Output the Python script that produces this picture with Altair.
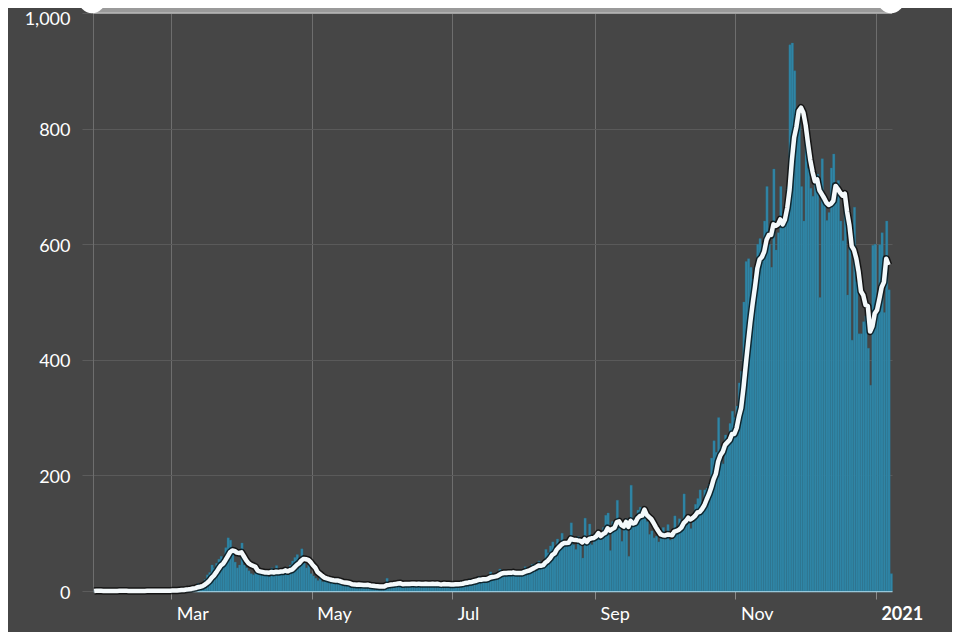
import altair as alt
import pandas as pd

# Daily new cases (Jan 27 2020 - Jan 7 2021)
jan20 = [0, 1, 0, 0, 0]
feb20 = [0, 0, 0, 1, 0, 0, 1, 0, 0, 0, 0, 0, 0, 0, 1, 0, 0, 0, 1, 0, 1, 0, 0, 1, 0, 1, 0, 1, 1]
mar20 = [1, 2, 1, 3, 2, 3, 5, 4, 6, 8, 7, 13, 9, 12, 20, 28, 32, 45, 40, 48, 55, 60, 50, 75, 92,
         88, 70, 50, 40, 45, 83]
apr20 = [45, 40, 35, 30, 28, 32, 38, 35, 34, 28, 30, 25, 40, 32, 44, 30, 35, 29, 40, 28, 45, 52,
         58, 63, 50, 73, 48, 40, 45, 30]
may20 = [26, 22, 18, 26, 16, 24, 20, 17, 15, 13, 22, 15, 16, 10, 11, 12, 9, 8, 14, 11, 13, 10, 9,
         8, 10, 6, 8, 9, 7, 6, 8]
jun20 = [10, 22, 12, 14, 9, 11, 12, 13, 11, 14, 15, 10, 12, 13, 9, 16, 11, 14, 12, 10, 13, 11, 15,
         12, 10, 9, 14, 11, 10, 12]
jul20 = [12, 14, 10, 16, 14, 18, 15, 20, 17, 18, 22, 25, 20, 21, 18, 24, 33, 28, 30, 26, 38, 34,
         28, 35, 30, 29, 32, 30, 34, 28, 36]
aug20 = [42, 38, 40, 46, 47, 43, 52, 40, 45, 72, 66, 78, 85, 70, 90, 74, 100, 83, 78, 88, 118, 80,
         72, 94, 80, 57, 126, 85, 116, 80, 98]
sep20 = [100, 96, 90, 110, 131, 135, 70, 120, 110, 157, 120, 86, 118, 125, 60, 183, 125, 130, 140,
         145, 130, 132, 120, 98, 104, 92, 95, 85, 92, 110]
oct20 = [95, 115, 88, 90, 130, 100, 125, 120, 168, 115, 130, 108, 120, 150, 160, 175, 150, 175, 178,
         185, 230, 260, 240, 300, 250, 220, 270, 260, 290, 311, 300]
nov20 = [320, 360, 380, 500, 570, 575, 560, 540, 560, 600, 610, 600, 640, 700, 600, 560, 730, 590,
         620, 700, 640, 660, 700, 945, 948, 900, 830, 830, 700, 640]
dec20 = [794, 731, 697, 683, 718, 721, 508, 748, 685, 641, 655, 732, 756, 689, 710, 640, 606, 679,
         512, 595, 434, 664, 535, 445, 445, 466, 476, 420, 356, 598, 600]
jan21 = [486, 599, 620, 482, 640, 521, 30]

y_ticks = [0, 200, 400, 600, 800, 1000]

cases = jan20 + feb20 + mar20 + apr20 + may20 + jun20 + jul20 + aug20 + sep20 + oct20 + nov20 + dec20 + jan21
dates = pd.date_range("2020-01-27", periods=len(cases), freq="D").strftime("%Y-%m-%d")
df = pd.DataFrame({"date": list(dates), "cases": cases})

W, H = 799, 578
FONT = "Lato"

x_ticks = [
    alt.DateTime(year=2020, month=3, date=1, utc=True),
    alt.DateTime(year=2020, month=5, date=1, utc=True),
    alt.DateTime(year=2020, month=7, date=1, utc=True),
    alt.DateTime(year=2020, month=9, date=1, utc=True),
    alt.DateTime(year=2020, month=11, date=1, utc=True),
    alt.DateTime(year=2021, month=1, date=1, utc=True),
]

is_jan = "utcFormat(datum.value, '%m') == '01'"

x_scale = alt.Scale(
    type="utc",
    domain=[alt.DateTime(year=2020, month=1, date=27, utc=True),
            alt.DateTime(year=2021, month=1, date=8, utc=True)],
)

x_axis = alt.Axis(
    title=None,
    values=x_ticks,
    labelExpr=f"{is_jan} ? utcFormat(datum.value, '%Y') : utcFormat(datum.value, '%b')",
    labelAlign="left",
    labelOffset=5,
    labelBaseline="top",
    labelPadding=6,
    labelFont=FONT,
    labelFontSize=18,
    labelColor="#ffffff",
    labelFontWeight=alt.condition(is_jan, alt.value("bold"), alt.value("normal")),
    tickColor="#8a8a8a",
    tickSize=8,
    grid=True,
    gridColor="#6e6e6e",
    gridWidth=1,
    domainColor="#a8d6e8",
    domainWidth=1.5,
)

x_enc = alt.X("date:T", timeUnit="utcyearmonthdate", scale=x_scale, axis=x_axis)
x_line = alt.X("date:T", timeUnit="utcyearmonthdate", scale=x_scale, bandPosition=0.5)

y_scale = alt.Scale(domain=[0, 1000], nice=False)

y_enc = alt.Y(
    "cases:Q",
    scale=y_scale,
    axis=alt.Axis(
        title=None,
        values=y_ticks,
        format=",.0f",
        labelFont=FONT,
        labelFontSize=18,
        labelColor="#ffffff",
        labelPadding=12,
        labelOffset=alt.condition("datum.value == 1000", alt.value(6), alt.value(2)),
        tickSize=11,
        tickColor="#5c5c5c",
        grid=True,
        gridColor="#5a5a5a",
        gridWidth=1,
        domainColor="#6e6e6e",
    ),
)

base = alt.Chart(df)

bars = base.mark_bar(color="#3086a7", stroke="#28728f", strokeWidth=0.3, binSpacing=0).encode(
    x=x_enc, y=y_enc
)

avg = base.transform_window(
    avg="mean(cases)", frame=[-6, 0], sort=[alt.SortField("date")]
).transform_filter("time(datum.date) < utc(2021, 0, 7)")

halo = avg.mark_line(color="#000000", strokeWidth=7.5, opacity=0.7, strokeJoin="round").encode(
    x=x_line, y=alt.Y("avg:Q", scale=y_scale)
)
white = avg.mark_line(color="#f4f9fb", strokeWidth=4.5, strokeJoin="round").encode(
    x=x_line, y=alt.Y("avg:Q", scale=y_scale)
)

one = alt.Data(values=[{"k": 1}])
slider = alt.Chart(one).mark_rect(color="#9a9a9a").encode(
    x=alt.value(0), x2=alt.value(W), y=alt.value(-8), y2=alt.value(0)
)
slider_edge = alt.Chart(one).mark_rule(color="#b8b8b8", strokeWidth=1.5).encode(
    x=alt.value(0), x2=alt.value(W), y=alt.value(0)
)
handle_l = alt.Chart(one).mark_circle(color="#ffffff", opacity=1, size=700).encode(
    x=alt.value(-1), y=alt.value(-13)
)
handle_r = alt.Chart(one).mark_circle(color="#ffffff", opacity=1, size=700).encode(
    x=alt.value(W - 1), y=alt.value(-13)
)

chart = alt.layer(
    bars, halo, white, slider, slider_edge, handle_l, handle_r
).properties(
    width=W,
    height=H,
    autosize=alt.AutoSizeParams(type="none"),
    padding={"left": 85, "top": 5, "right": 60, "bottom": 41},
    background="#464646",
).configure_view(strokeWidth=0)

chart.save("out.html", embed_options={"renderer": "svg", "actions": False})
